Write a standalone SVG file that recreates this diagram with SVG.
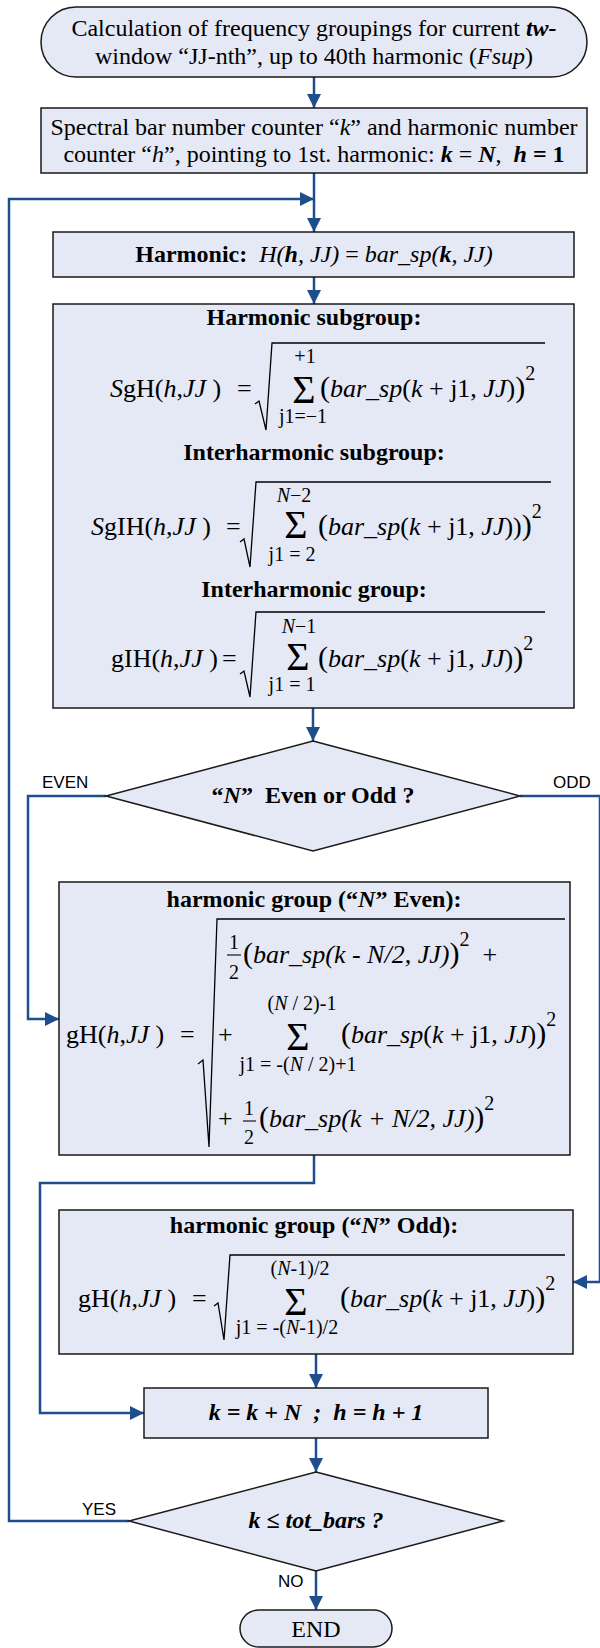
<svg xmlns="http://www.w3.org/2000/svg" width="600" height="1648" viewBox="0 0 600 1648">
<defs>
<style>
.n{fill:#E5E8F5;stroke:#1A1A1A;stroke-width:1.5}
.t{font-family:"Liberation Serif","Times New Roman",serif;font-size:24px;fill:#000;white-space:pre}
.b{font-weight:bold}
.i{font-style:italic}
.c{text-anchor:middle}
.f{font-family:"Liberation Serif","Times New Roman",serif;font-size:26px;fill:#000;white-space:pre}
.s{font-family:"Liberation Serif","Times New Roman",serif;font-size:20px;fill:#000;white-space:pre}
.sum{font-family:"Liberation Serif","Times New Roman",serif;font-size:40px;fill:#000;text-anchor:middle}
.rad{fill:none;stroke:#000;stroke-width:1.3}
.fr{stroke:#000;stroke-width:1.1}
.lbl{font-family:"Liberation Sans",Arial,sans-serif;font-size:17px;fill:#000}
.cn{fill:none;stroke:#1F4E8C;stroke-width:2.5}
</style>
<marker id="ah" markerUnits="userSpaceOnUse" markerWidth="14" markerHeight="14" refX="14" refY="7" orient="auto"><path d="M0,0 L14,7 L0,14 z" fill="#1F4E8C"/></marker>
</defs>
<rect width="600" height="1648" fill="#fff"/>

<g id="connectors">
<path class="cn" d="M314 77 V108" marker-end="url(#ah)"/>
<path class="cn" d="M314 173 V232" marker-end="url(#ah)"/>
<path class="cn" d="M129 1521 H9 V199 H314" marker-end="url(#ah)"/>
<path class="cn" d="M314 277 V304" marker-end="url(#ah)"/>
<path class="cn" d="M313 708 V741" marker-end="url(#ah)"/>
<path class="cn" d="M106 796 H28 V1019 H59" marker-end="url(#ah)"/>
<path class="cn" d="M520 796 H600 V1282 H573" marker-end="url(#ah)"/>
<path class="cn" d="M314 1155 V1183 H40 V1413 H144" marker-end="url(#ah)"/>
<path class="cn" d="M316 1354 V1388" marker-end="url(#ah)"/>
<path class="cn" d="M316 1438 V1472" marker-end="url(#ah)"/>
<path class="cn" d="M316 1571 V1610" marker-end="url(#ah)"/>
<text class="lbl" x="42" y="788">EVEN</text>
<text class="lbl" x="553" y="788">ODD</text>
<text class="lbl" x="82" y="1515">YES</text>
<text class="lbl" x="278" y="1587">NO</text>
</g>

<g id="start">
<rect class="n" x="41" y="7" width="546" height="70" rx="35"/>
<text class="t c" x="314" y="36">Calculation of frequency groupings for current <tspan class="b i">tw-</tspan></text>
<text class="t c" x="314" y="64">window “JJ-nth”, up to 40th harmonic (<tspan class="i">Fsup</tspan>)</text>
</g>

<g id="init">
<rect class="n" x="41" y="108" width="546" height="65"/>
<text class="t c" x="314" y="135">Spectral bar number counter “<tspan class="i">k</tspan>” and harmonic number</text>
<text class="t c" x="314" y="162">counter “<tspan class="i">h</tspan>”, pointing to 1st. harmonic: <tspan class="b i">k</tspan> = <tspan class="b i">N</tspan>,  <tspan class="b i">h</tspan><tspan class="b"> = 1</tspan></text>
</g>

<g id="harmonic">
<rect class="n" x="53" y="232" width="521" height="45"/>
<text class="t c" x="314" y="262"><tspan class="b">Harmonic:</tspan>  <tspan class="i">H(</tspan><tspan class="b i">h</tspan><tspan class="i">, JJ)</tspan> = <tspan class="i">bar_sp(</tspan><tspan class="b i">k</tspan><tspan class="i">, JJ)</tspan></text>
</g>

<g id="subgroups">
<rect class="n" x="53" y="304" width="521" height="404"/>
<text class="t b c" x="314" y="325">Harmonic subgroup:</text>
<text class="f" x="110" y="397"><tspan class="i">S</tspan>gH(<tspan class="i">h</tspan>,<tspan class="i">JJ</tspan> )</text>
<text class="f" x="237" y="397">=</text>
<path class="rad" d="M255 404 L259 401 L266 430 L272 343 H545"/>
<text class="s c" x="305" y="363">+1</text>
<text class="sum" x="304" y="403">Σ</text>
<text class="s c" x="303" y="423">j1=−1</text>
<text class="f" x="320" y="397"><tspan font-size="30">(</tspan><tspan class="i">bar_sp</tspan>(<tspan class="i">k</tspan> + j1, <tspan class="i">JJ</tspan>)<tspan font-size="30">)</tspan><tspan font-size="20" dy="-17">2</tspan></text>

<text class="t b c" x="314" y="460">Interharmonic subgroup:</text>
<text class="f" x="91" y="535"><tspan class="i">S</tspan>gIH(<tspan class="i">h</tspan>,<tspan class="i">JJ</tspan> )</text>
<text class="f" x="226" y="535">=</text>
<path class="rad" d="M240 542 L244 539 L250 567 L256 482 H551"/>
<text class="s c" x="294" y="502"><tspan class="i">N</tspan>−2</text>
<text class="sum" x="296" y="538">Σ</text>
<text class="s c" x="292" y="561">j1 = 2</text>
<text class="f" x="318" y="535"><tspan font-size="30">(</tspan><tspan class="i">bar_sp</tspan>(<tspan class="i">k</tspan> + j1, <tspan class="i">JJ</tspan>))<tspan font-size="30">)</tspan><tspan font-size="20" dy="-17">2</tspan></text>

<text class="t b c" x="314" y="597">Interharmonic group:</text>
<text class="f" x="111" y="667">gIH(<tspan class="i">h</tspan>,<tspan class="i">JJ</tspan> )</text>
<text class="f" x="222" y="667">=</text>
<path class="rad" d="M240 674 L244 671 L250 697 L256 612 H545"/>
<text class="s c" x="299" y="633"><tspan class="i">N</tspan>−1</text>
<text class="sum" x="298" y="670">Σ</text>
<text class="s c" x="292" y="691">j1 = 1</text>
<text class="f" x="318" y="667"><tspan font-size="30">(</tspan><tspan class="i">bar_sp</tspan>(<tspan class="i">k</tspan> + j1, <tspan class="i">JJ</tspan>)<tspan font-size="30">)</tspan><tspan font-size="20" dy="-17">2</tspan></text>
</g>

<g id="parity">
<polygon class="n" points="313,741 520,796 313,851 106,796"/>
<text class="t b c" x="313" y="803">“<tspan class="i">N</tspan>”  Even or Odd ?</text>
</g>

<g id="even">
<rect class="n" x="59" y="882" width="511" height="273"/>
<text class="t b c" x="314" y="907">harmonic group (“<tspan class="i">N</tspan>” Even):</text>
<text class="f" x="66" y="1043">gH(<tspan class="i">h</tspan>,<tspan class="i">JJ</tspan> )</text>
<text class="f" x="180" y="1043">=</text>
<path class="rad" d="M198 1064 L203 1060 L209 1147 L217 919 H565"/>
<text class="s c" x="234" y="949">1</text>
<line class="fr" x1="227" y1="955" x2="241" y2="955"/>
<text class="s c" x="234" y="979">2</text>
<text class="f" x="243" y="963"><tspan font-size="30">(</tspan><tspan class="i">bar_sp(k - N/2, JJ)</tspan><tspan font-size="30">)</tspan><tspan font-size="20" dy="-17">2</tspan><tspan dy="17">  +</tspan></text>
<text class="f" x="218" y="1043">+</text>
<text class="s c" x="302" y="1010">(<tspan class="i">N</tspan> / 2)-1</text>
<text class="sum" x="298" y="1050" font-size="46">Σ</text>
<text class="s c" x="298" y="1071">j1 = -(<tspan class="i">N</tspan> / 2)+1</text>
<text class="f" x="341" y="1043"><tspan font-size="30">(</tspan><tspan class="i">bar_sp</tspan>(<tspan class="i">k</tspan> + j1, <tspan class="i">JJ</tspan>)<tspan font-size="30">)</tspan><tspan font-size="20" dy="-17">2</tspan></text>
<text class="f" x="218" y="1127">+</text>
<text class="s c" x="249" y="1115">1</text>
<line class="fr" x1="243" y1="1121" x2="256" y2="1121"/>
<text class="s c" x="249" y="1144">2</text>
<text class="f" x="259" y="1127"><tspan font-size="30">(</tspan><tspan class="i">bar_sp(k + N/2, JJ)</tspan><tspan font-size="30">)</tspan><tspan font-size="20" dy="-17">2</tspan></text>
</g>

<g id="odd">
<rect class="n" x="59" y="1210" width="514" height="144"/>
<text class="t b c" x="314" y="1233">harmonic group (“<tspan class="i">N</tspan>” Odd):</text>
<text class="f" x="78" y="1307">gH(<tspan class="i">h</tspan>,<tspan class="i">JJ</tspan> )</text>
<text class="f" x="192" y="1307">=</text>
<path class="rad" d="M214 1306 L218 1303 L224 1340 L230 1255 H565"/>
<text class="s c" x="300" y="1275">(<tspan class="i">N</tspan>-1)/2</text>
<text class="sum" x="296" y="1315" font-size="48">Σ</text>
<text class="s c" x="287" y="1334">j1 = -(<tspan class="i">N</tspan>-1)/2</text>
<text class="f" x="340" y="1307"><tspan font-size="30">(</tspan><tspan class="i">bar_sp</tspan>(<tspan class="i">k</tspan> + j1, <tspan class="i">JJ</tspan>)<tspan font-size="30">)</tspan><tspan font-size="20" dy="-17">2</tspan></text>
</g>

<g id="increment">
<rect class="n" x="144" y="1388" width="344" height="50"/>
<text class="t b i c" x="316" y="1420">k = k + N  ;  h = h + 1</text>
</g>

<g id="test">
<polygon class="n" points="316,1472 503,1521 316,1571 129,1521"/>
<text class="t b i c" x="316" y="1528">k ≤ tot_bars ?</text>
</g>

<g id="end">
<rect class="n" x="240" y="1610" width="152" height="37" rx="18.5"/>
<text class="t c" x="316" y="1637" font-size="22">END</text>
</g>
</svg>
